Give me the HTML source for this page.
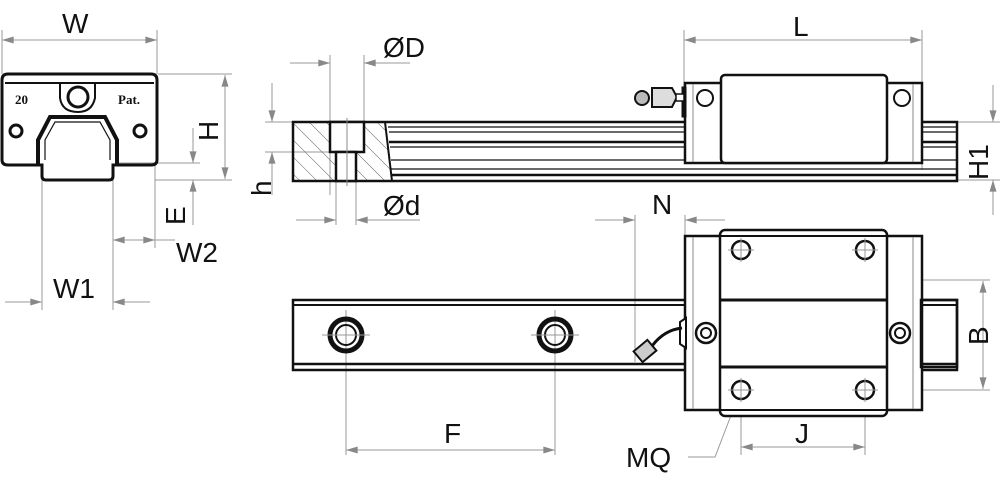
<!DOCTYPE html>
<html><head><meta charset="utf-8"><style>
html,body{margin:0;padding:0;background:#fff;width:1000px;height:479px;overflow:hidden}
svg{display:block}
text{font-family:"Liberation Sans",sans-serif;font-size:28px;fill:#111}
</style></head><body>
<svg width="1000" height="479" viewBox="0 0 1000 479" xmlns="http://www.w3.org/2000/svg">
<defs>
<marker id="a" viewBox="0 0 10 6" refX="10" refY="3" markerWidth="18" markerHeight="7" markerUnits="userSpaceOnUse" orient="auto-start-reverse"><path d="M0,0L10,3L0,6z" fill="#888"/></marker>
<pattern id="h" width="12" height="12" patternUnits="userSpaceOnUse" patternTransform="rotate(-45)"><line x1="0" y1="0" x2="0" y2="12" stroke="#666" stroke-width="1"/></pattern>
</defs>
<g stroke="#999" stroke-width="1" fill="none">
<line x1="2" y1="74" x2="2" y2="30"/><line x1="157" y1="74" x2="157" y2="30"/>
<line x1="2" y1="40" x2="157" y2="40" marker-start="url(#a)" marker-end="url(#a)"/>
<line x1="158" y1="74" x2="232" y2="74"/><line x1="155" y1="180" x2="232" y2="180"/>
<line x1="225" y1="75" x2="225" y2="179" marker-start="url(#a)" marker-end="url(#a)"/>
<line x1="115" y1="163" x2="200" y2="163"/>
<line x1="193" y1="128" x2="193" y2="163" marker-end="url(#a)"/>
<line x1="193" y1="225" x2="193" y2="180" marker-end="url(#a)"/>
<line x1="42" y1="180" x2="42" y2="310"/><line x1="113" y1="180" x2="113" y2="310"/>
<line x1="155" y1="165" x2="155" y2="248"/>
<line x1="113" y1="240" x2="155" y2="240" marker-start="url(#a)" marker-end="url(#a)"/>
<line x1="155" y1="240" x2="175" y2="240"/>
<line x1="5" y1="302" x2="42" y2="302" marker-end="url(#a)"/>
<line x1="150" y1="302" x2="113" y2="302" marker-end="url(#a)"/>
<line x1="330" y1="55" x2="330" y2="195"/><line x1="364" y1="55" x2="364" y2="122"/>
<line x1="290" y1="63" x2="330" y2="63" marker-end="url(#a)"/>
<line x1="410" y1="63" x2="364" y2="63" marker-end="url(#a)"/>
<line x1="336" y1="181" x2="336" y2="225"/><line x1="356" y1="181" x2="356" y2="225"/>
<line x1="296" y1="220" x2="336" y2="220" marker-end="url(#a)"/>
<line x1="420" y1="220" x2="356" y2="220" marker-end="url(#a)"/>
<line x1="265" y1="122" x2="293" y2="122"/><line x1="265" y1="152" x2="330" y2="152"/>
<line x1="272" y1="83" x2="272" y2="122" marker-end="url(#a)"/>
<line x1="272" y1="195" x2="272" y2="152" marker-end="url(#a)"/>
<line x1="684" y1="30" x2="684" y2="95"/><line x1="922" y1="30" x2="922" y2="170"/>
<line x1="684" y1="40" x2="922" y2="40" marker-start="url(#a)" marker-end="url(#a)"/>
<line x1="957" y1="122" x2="1000" y2="122"/><line x1="957" y1="180" x2="1000" y2="180"/>
<line x1="993" y1="85" x2="993" y2="122" marker-end="url(#a)"/>
<line x1="993" y1="215" x2="993" y2="180" marker-end="url(#a)"/>
<line x1="635" y1="215" x2="635" y2="362"/><line x1="685" y1="215" x2="685" y2="235"/>
<line x1="595" y1="220" x2="635" y2="220" marker-end="url(#a)"/>
<line x1="725" y1="220" x2="685" y2="220" marker-end="url(#a)"/>
<line x1="865" y1="280" x2="990" y2="280"/><line x1="865" y1="390" x2="990" y2="390"/>
<line x1="983" y1="281" x2="983" y2="389" marker-start="url(#a)" marker-end="url(#a)"/>
<line x1="346" y1="315" x2="346" y2="455"/><line x1="555" y1="315" x2="555" y2="455"/>
<line x1="346" y1="450" x2="555" y2="450" marker-start="url(#a)" marker-end="url(#a)"/>
<line x1="741" y1="405" x2="741" y2="455"/><line x1="865" y1="405" x2="865" y2="455"/>
<line x1="741" y1="447" x2="865" y2="447" marker-start="url(#a)" marker-end="url(#a)"/>
<polyline points="688,457 715,457 735,405"/>
</g>
<path d="M735,403 L730,415 L738,413z" fill="#111"/>
<g stroke="#111" fill="none" stroke-width="3">
<path d="M8,74 H151 Q157,74 157,80 V160 Q157,165 151,165 H113 V176 Q113,180 109,180 H46 Q42,180 42,176 V165 H8 Q2,165 2,160 V80 Q2,74 8,74z"/>
<line x1="5" y1="83" x2="154" y2="83" stroke-width="2"/>
<path d="M60,83 V98 Q62,112 78,112 Q92,112 95,98 V83" stroke-width="2"/>
<circle cx="78" cy="97" r="10"/>
<path d="M38,165 V140 L50,117 H105 L117,140 V165" stroke-width="4"/>
<path d="M45,160 V140 L55,122 H100 L110,140 V160" stroke-width="1.2"/>
<circle cx="16" cy="131" r="6"/><circle cx="140" cy="131" r="6"/>
</g>
<text x="15" y="104" style="font-size:13px;font-weight:bold;font-family:'Liberation Serif',serif">20</text>
<text x="118" y="104" style="font-size:13px;font-weight:bold;font-family:'Liberation Serif',serif">Pat.</text>
<path d="M293,122 H385 L392,181 H293z" fill="url(#h)"/>
<g stroke="#111" fill="none">
<rect x="293" y="122" width="664" height="59" stroke-width="2.5"/>
<path d="M385,122 L392,181" stroke-width="2"/>
<rect x="330" y="122" width="34" height="30" fill="#fff" stroke-width="2.5"/>
<rect x="336" y="152" width="20" height="29" fill="#fff" stroke-width="2.5"/>
<line x1="347" y1="118" x2="347" y2="186" stroke="#888" stroke-width="1"/>
<g stroke-width="1.2"><line x1="388" y1="127" x2="957" y2="127"/><line x1="389" y1="132" x2="957" y2="132"/><line x1="390" y1="147" x2="957" y2="147"/><line x1="391" y1="160" x2="957" y2="160"/><line x1="391" y1="169" x2="957" y2="169"/></g>
<line x1="389" y1="142" x2="957" y2="142" stroke-width="2.5"/>
<line x1="391" y1="175" x2="957" y2="175" stroke-width="2.5"/>
</g>
<g stroke="#111" fill="#fff">
<rect x="685" y="83" width="237" height="80" stroke-width="2.5"/>
<rect x="721" y="75" width="166" height="88" rx="4" stroke-width="2.5"/>
<line x1="693" y1="84" x2="693" y2="162" stroke-width="1" stroke="#888"/>
<line x1="913" y1="84" x2="913" y2="162" stroke-width="1" stroke="#888"/>
<circle cx="705" cy="98" r="8" stroke-width="2"/><circle cx="902" cy="98" r="8" stroke-width="2"/>
<rect x="682" y="87" width="4" height="30" fill="#111"/>
<path d="M652,88 H672 L677,97 L672,107 H652z" stroke-width="2" fill="#ddd"/>
<circle cx="642" cy="98" r="7" stroke-width="2" fill="#bbb"/>
<rect x="676" y="94" width="8" height="7" stroke-width="1.5"/>
</g>
<g stroke="#111" fill="none">
<rect x="293" y="300" width="664" height="70" stroke-width="2.5"/>
<line x1="293" y1="305" x2="957" y2="305" stroke-width="2"/>
<line x1="293" y1="364" x2="957" y2="364" stroke-width="2.5"/>
<circle cx="346" cy="335" r="16" stroke-width="5"/><circle cx="346" cy="335" r="10" stroke-width="2"/>
<circle cx="555" cy="335" r="16" stroke-width="5"/><circle cx="555" cy="335" r="10" stroke-width="2"/>
</g>
<g stroke="#999" stroke-width="1"><line x1="322" y1="335" x2="370" y2="335"/><line x1="531" y1="335" x2="579" y2="335"/><line x1="346" y1="310" x2="346" y2="315"/><line x1="555" y1="310" x2="555" y2="315"/></g>
<g stroke="#111" fill="#fff">
<rect x="685" y="236" width="237" height="174" stroke-width="2.5"/>
<rect x="720" y="230" width="167" height="186" rx="5" stroke-width="2.5"/>
<line x1="720" y1="236" x2="887" y2="236" stroke-width="2"/>
<line x1="720" y1="300" x2="887" y2="300" stroke-width="3"/>
<line x1="720" y1="367" x2="887" y2="367" stroke-width="3"/>
<line x1="720" y1="410" x2="887" y2="410" stroke-width="2"/>
<line x1="693" y1="237" x2="693" y2="409" stroke-width="1" stroke="#888"/>
<line x1="913" y1="237" x2="913" y2="409" stroke-width="1" stroke="#888"/>
<rect x="921" y="300" width="36" height="67" fill="none" stroke-width="2.5"/>
<circle cx="741" cy="250" r="9" stroke-width="2.5"/><circle cx="865" cy="250" r="9" stroke-width="2.5"/>
<circle cx="741" cy="390" r="9" stroke-width="2.5"/><circle cx="865" cy="390" r="9" stroke-width="2.5"/>
<circle cx="706" cy="333" r="10" stroke-width="2.5"/><circle cx="706" cy="333" r="5" stroke-width="2"/>
<circle cx="900" cy="333" r="10" stroke-width="2.5"/><circle cx="900" cy="333" r="5" stroke-width="2"/>
<path d="M680,322 L686,318 V348 L680,344z" stroke-width="2"/>
<path d="M682,328 Q664,330 652,346" fill="none" stroke-width="3"/>
<rect x="636" y="344" width="18" height="14" transform="rotate(-40 645 351)" fill="#ccc" stroke-width="2"/>
</g>
<g stroke="#999" stroke-width="1"><line x1="728" y1="250" x2="754" y2="250"/><line x1="852" y1="250" x2="878" y2="250"/><line x1="728" y1="390" x2="754" y2="390"/><line x1="852" y1="390" x2="878" y2="390"/><line x1="741" y1="238" x2="741" y2="262"/><line x1="865" y1="238" x2="865" y2="262"/><line x1="741" y1="378" x2="741" y2="402"/><line x1="865" y1="378" x2="865" y2="402"/></g>
<text x="62" y="33">W</text>
<text x="0" y="0" transform="translate(218,141) rotate(-90)">H</text>
<text x="0" y="0" transform="translate(185,225) rotate(-90)">E</text>
<text x="176" y="262">W2</text>
<text x="53" y="298">W1</text>
<text x="383" y="57">ØD</text>
<text x="383" y="215">Ød</text>
<text x="0" y="0" transform="translate(271,196) rotate(-90)">h</text>
<text x="793" y="36">L</text>
<text x="0" y="0" transform="translate(988,180) rotate(-90)">H1</text>
<text x="652" y="214">N</text>
<text x="0" y="0" transform="translate(988,345) rotate(-90)">B</text>
<text x="444" y="443">F</text>
<text x="795" y="443">J</text>
<text x="626" y="467">MQ</text>
</svg>
</body></html>
